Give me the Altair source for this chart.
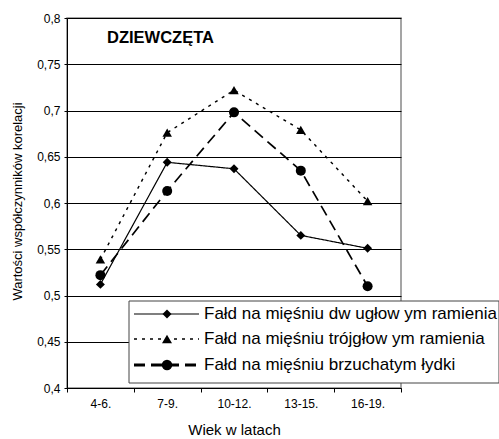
import altair as alt
import pandas as pd

categories = ["4-6.", "7-9.", "10-12.", "13-15.", "16-19."]
series_names = [
    "Fałd na mięśniu dw ugłow ym ramienia",
    "Fałd na mięśniu trójgłow ym ramienia",
    "Fałd na mięśniu brzuchatym łydki",
]
diamond_vals = [0.512, 0.644, 0.637, 0.565, 0.551]
triangle_vals = [0.539, 0.676, 0.722, 0.679, 0.602]
circle_vals = [0.522, 0.613, 0.698, 0.635, 0.510]
y_ticks = [0.4, 0.45, 0.5, 0.55, 0.6, 0.65, 0.7, 0.75, 0.8]

rows = []
for name, vals in zip(series_names, [diamond_vals, triangle_vals, circle_vals]):
    for c, v in zip(categories, vals):
        rows.append({"wiek": c, "wartosc": v, "seria": name})
df = pd.DataFrame(rows)

shapes = ["diamond", "triangle-up", "circle"]
dashes = [[1, 0], [3, 5], [11, 6]]
widths = [1.2, 1.7, 2.8]
sizes = [80, 100, 110]

FONT = "Liberation Sans"

x_enc = alt.X(
    "wiek:N",
    sort=categories,
    scale=alt.Scale(type="band", paddingInner=0, paddingOuter=0),
    axis=alt.Axis(
        title="Wiek w latach",
        tickBand="extent",
        grid=False,
        labelAngle=0,
        labelFontSize=12,
        labelFont=FONT,
        labelColor="#000",
        labelPadding=6,
        tickSize=4,
        tickColor="#000",
        domainColor="#000",
        titleFont=FONT,
        titleFontSize=15,
        titleFontWeight="normal",
        titleColor="#000",
        titlePadding=13,
    ),
)
y_enc = alt.Y(
    "wartosc:Q",
    scale=alt.Scale(domain=[0.4, 0.8], nice=False, zero=False),
    axis=alt.Axis(
        title="Wartości współczynników korelacji",
        values=y_ticks,
        labelExpr="replace(format(datum.value, '.2~f'), '.', ',')",
        grid=True,
        gridColor="#000",
        gridWidth=1,
        labelFontSize=12,
        labelFont=FONT,
        labelColor="#000",
        labelPadding=4,
        tickSize=3,
        tickColor="#000",
        domainColor="#000",
        titleFont=FONT,
        titleFontSize=13,
        titleFontWeight="normal",
        titleColor="#000",
        titlePadding=12,
        titleY=183,
    ),
)

lines = alt.Chart(df).mark_line(color="black").encode(
    x=x_enc,
    y=y_enc,
    strokeDash=alt.StrokeDash("seria:N", scale=alt.Scale(domain=series_names, range=dashes), legend=None),
    strokeWidth=alt.StrokeWidth("seria:N", scale=alt.Scale(domain=series_names, range=widths), legend=None),
    detail="seria:N",
)
points = alt.Chart(df).mark_point(filled=True, color="black", opacity=1).encode(
    x=alt.X("wiek:N", sort=categories),
    y="wartosc:Q",
    shape=alt.Shape("seria:N", scale=alt.Scale(domain=series_names, range=shapes), legend=None),
    size=alt.Size("seria:N", scale=alt.Scale(domain=series_names, range=sizes), legend=None),
)

title_txt = alt.Chart(alt.Data(values=[{"t": "DZIEWCZĘTA"}])).mark_text(
    align="left", baseline="middle", font=FONT, fontSize=16.5, fontWeight="bold", color="black"
).encode(x=alt.value(40), y=alt.value(20), text="t:N")

# legend box
leg_box = alt.Chart(alt.Data(values=[{"a": 1}])).mark_rect(
    fill="white", stroke="#444", strokeWidth=1
).encode(x=alt.value(62), x2=alt.value(432), y=alt.value(283), y2=alt.value(365))

legend_layers = [leg_box]
row_y = [296, 321, 347]
for i, name in enumerate(series_names):
    d = alt.Data(values=[{"label": name}])
    legend_layers.append(
        alt.Chart(d).mark_rule(color="black", strokeWidth=widths[i], strokeDash=dashes[i]).encode(
            x=alt.value(67), x2=alt.value(132), y=alt.value(row_y[i])
        )
    )
    legend_layers.append(
        alt.Chart(d).mark_point(shape=shapes[i], size=sizes[i], filled=True, color="black", opacity=1).encode(
            x=alt.value(100), y=alt.value(row_y[i])
        )
    )
    legend_layers.append(
        alt.Chart(d).mark_text(align="left", baseline="middle", font=FONT, fontSize=17, color="black").encode(
            x=alt.value(137), y=alt.value(row_y[i]), text="label:N"
        )
    )

chart = alt.layer(lines, points, title_txt, *legend_layers).properties(
    width=334,
    height=370,
    autosize=alt.AutoSizeParams(type="none"),
    padding={"left": 67, "top": 18, "right": 98, "bottom": 51},
    background="white",
).configure_view(stroke="#888", strokeWidth=1.5)

chart.save("out.html", embed_options={"renderer": "svg", "actions": False})
